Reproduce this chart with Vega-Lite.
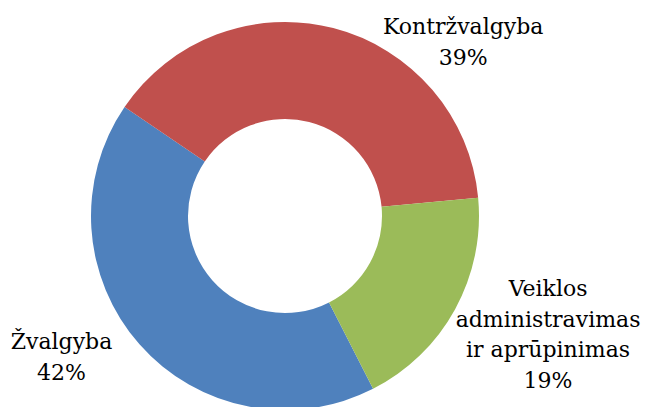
{
  "$schema": "https://vega.github.io/schema/vega-lite/v6.json",
  "width": 570,
  "height": 382,
  "autosize": "none",
  "padding": {"left": 0, "top": 25, "right": 80, "bottom": 0},
  "background": "white",
  "config": {"view": {"stroke": null}},
  "data": {
    "values": [
      {"category": "Žvalgyba", "value": 42, "label": "Žvalgyba\n42%"},
      {"category": "Kontržvalgyba", "value": 39, "label": "Kontržvalgyba\n39%"},
      {"category": "Veiklos administravimas ir aprūpinimas", "value": 19, "label": "Veiklos\nadministravimas\nir aprūpinimas\n19%"}
    ]
  },
  "encoding": {
    "theta": {"field": "value", "type": "quantitative", "stack": true, "scale": {"range": [-0.9739, 5.3093]}},
    "order": {"field": "category", "sort": "ascending"}
  },
  "layer": [
    {
      "mark": {"type": "arc", "outerRadius": 194, "innerRadius": 97},
      "encoding": {
        "color": {
          "field": "category",
          "type": "nominal",
          "scale": {
            "domain": ["Kontržvalgyba", "Veiklos administravimas ir aprūpinimas", "Žvalgyba"],
            "range": ["#C0504D", "#9BBB59", "#4F81BD"]
          },
          "legend": null
        }
      }
    },
    {
      "mark": {"type": "text", "radius": 250, "dx": 116, "dy": 53, "font": "DejaVu Serif", "fontSize": 22, "lineBreak": "\n", "lineHeight": 31, "align": "center", "baseline": "middle", "color": "#000000"},
      "encoding": {
        "text": {"condition": {"test": "datum.category === 'Kontržvalgyba'", "field": "label"}, "value": ""}
      }
    },
    {
      "mark": {"type": "text", "radius": 250, "dx": 44, "dy": -47, "font": "DejaVu Serif", "fontSize": 22, "lineBreak": "\n", "lineHeight": 30.5, "align": "center", "baseline": "middle", "color": "#000000"},
      "encoding": {
        "text": {"condition": {"test": "datum.category === 'Veiklos administravimas ir aprūpinimas'", "field": "label"}, "value": ""}
      }
    },
    {
      "mark": {"type": "text", "radius": 250, "dx": -36, "dy": -39, "font": "DejaVu Serif", "fontSize": 22, "lineBreak": "\n", "lineHeight": 31, "align": "center", "baseline": "middle", "color": "#000000"},
      "encoding": {
        "text": {"condition": {"test": "datum.category === 'Žvalgyba'", "field": "label"}, "value": ""}
      }
    }
  ]
}
